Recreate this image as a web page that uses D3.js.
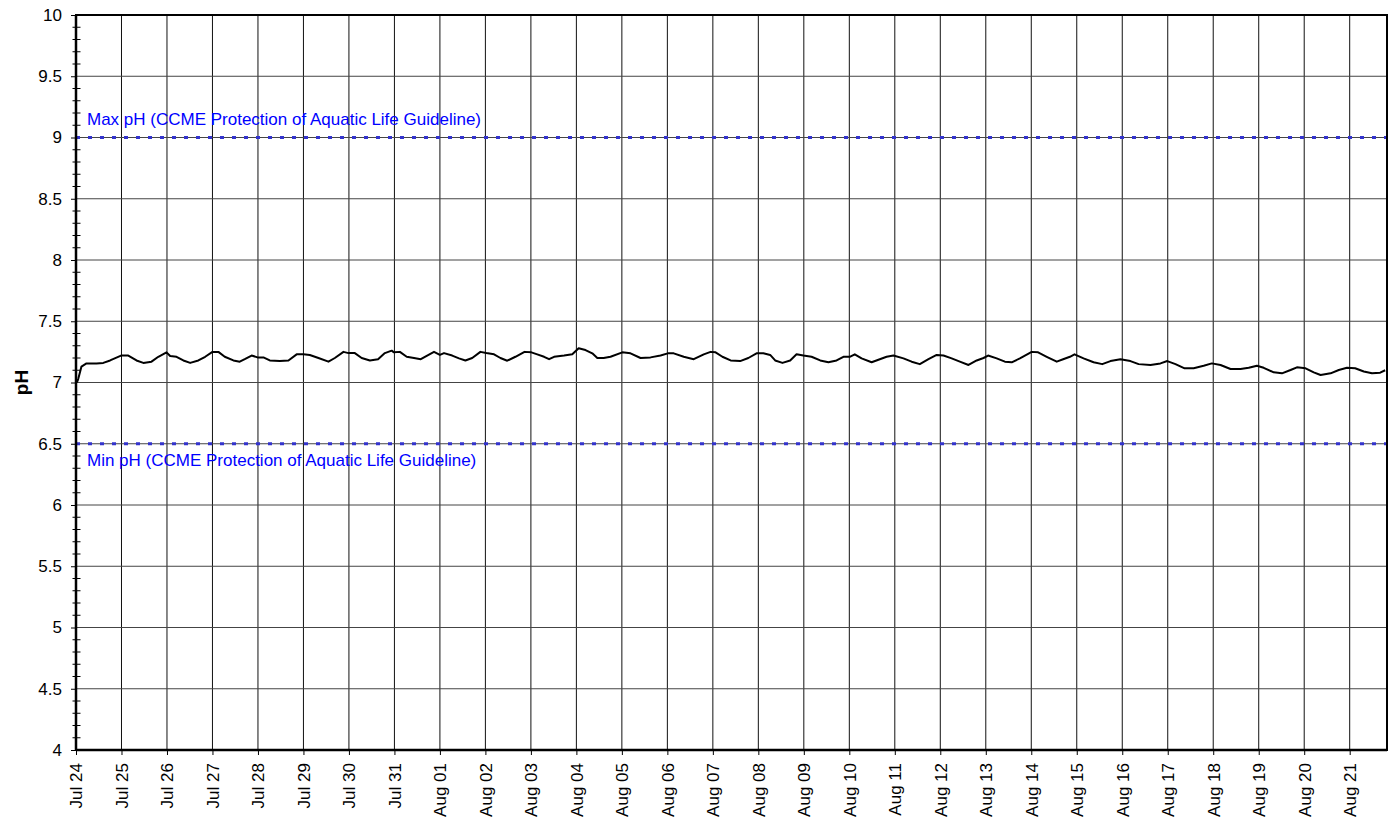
<!DOCTYPE html>
<html>
<head>
<meta charset="utf-8">
<script src="https://cdn.jsdelivr.net/npm/d3@7"></script>
<style>
  html, body { margin: 0; padding: 0; background: #fff; }
  svg { display: block; font-family: Arial, "Liberation Sans", sans-serif; }
</style>
</head>
<body>
<svg id="chart" width="1395" height="820"></svg>
<script>
// ---- data (days since Jul 24 00:00, pH) ----
const startDate = new Date(2012, 6, 24, 0, 0);
const dayOffsets = [
  0.02, 0.05, 0.12, 0.23, 0.45, 0.60, 0.75, 0.99, 1.15, 1.33, 1.48, 1.66, 1.81, 1.99,
  2.07, 2.21, 2.36, 2.51, 2.69, 2.84, 3.00, 3.13, 3.27, 3.46, 3.60, 3.71, 3.86, 3.99,
  4.12, 4.26, 4.48, 4.67, 4.85, 5.00, 5.14, 5.33, 5.55, 5.69, 5.88, 5.99, 6.13, 6.28,
  6.46, 6.64, 6.79, 6.94, 6.99, 7.12, 7.27, 7.43, 7.58, 7.72, 7.87, 8.00, 8.09, 8.27,
  8.42, 8.56, 8.71, 8.89, 9.02, 9.19, 9.33, 9.48, 9.66, 9.86, 10.01, 10.14, 10.29, 10.40,
  10.51, 10.73, 10.91, 11.05, 11.20, 11.35, 11.46, 11.60, 11.75, 12.01, 12.19, 12.41, 12.63, 12.85,
  13.01, 13.14, 13.36, 13.58, 13.80, 13.95, 14.06, 14.21, 14.39, 14.60, 14.78, 14.96, 15.11, 15.26,
  15.37, 15.53, 15.70, 15.84, 15.99, 16.17, 16.36, 16.54, 16.72, 16.87, 17.01, 17.12, 17.27, 17.49,
  17.67, 17.82, 17.97, 18.19, 18.37, 18.55, 18.74, 18.92, 19.07, 19.25, 19.43, 19.62, 19.80, 19.95,
  20.05, 20.24, 20.42, 20.57, 20.75, 21.01, 21.15, 21.34, 21.56, 21.70, 21.85, 21.95, 22.15, 22.37,
  22.56, 22.74, 22.96, 23.18, 23.36, 23.62, 23.84, 23.99, 24.17, 24.37, 24.57, 24.79, 24.97, 25.16,
  25.38, 25.60, 25.78, 25.96, 26.11, 26.33, 26.51, 26.70, 26.84, 27.03, 27.21, 27.36, 27.58, 27.76,
  27.94, 28.12, 28.31, 28.49, 28.67, 28.78
];
const phValues = [
  7.00, 7.03, 7.13, 7.156, 7.156, 7.16, 7.18, 7.22, 7.22, 7.18, 7.16, 7.17, 7.21, 7.246,
  7.216, 7.21, 7.18, 7.16, 7.18, 7.21, 7.25, 7.25, 7.21, 7.18, 7.17, 7.19, 7.22, 7.205,
  7.205, 7.18, 7.175, 7.18, 7.23, 7.23, 7.225, 7.20, 7.17, 7.20, 7.25, 7.24, 7.24, 7.20,
  7.18, 7.19, 7.24, 7.26, 7.246, 7.25, 7.21, 7.20, 7.19, 7.22, 7.25, 7.225, 7.24, 7.22,
  7.197, 7.18, 7.20, 7.25, 7.24, 7.23, 7.20, 7.178, 7.21, 7.25, 7.246, 7.23, 7.21, 7.19,
  7.21, 7.22, 7.23, 7.28, 7.265, 7.238, 7.20, 7.20, 7.21, 7.246, 7.238, 7.20, 7.205, 7.22,
  7.238, 7.238, 7.21, 7.19, 7.23, 7.25, 7.246, 7.21, 7.18, 7.175, 7.20, 7.238, 7.238, 7.225,
  7.18, 7.16, 7.18, 7.23, 7.22, 7.21, 7.18, 7.165, 7.18, 7.21, 7.21, 7.23, 7.197, 7.165,
  7.19, 7.21, 7.22, 7.197, 7.17, 7.15, 7.19, 7.225, 7.22, 7.197, 7.17, 7.143, 7.18, 7.20,
  7.22, 7.197, 7.17, 7.165, 7.197, 7.25, 7.246, 7.21, 7.17, 7.19, 7.21, 7.23, 7.197, 7.165,
  7.15, 7.175, 7.19, 7.175, 7.15, 7.143, 7.156, 7.175, 7.15, 7.116, 7.116, 7.137, 7.156, 7.143,
  7.11, 7.11, 7.12, 7.137, 7.12, 7.083, 7.075, 7.102, 7.124, 7.116, 7.083, 7.061, 7.075, 7.102,
  7.12, 7.116, 7.09, 7.075, 7.08, 7.10
];
const xTickLabels = [
  "Jul 24", "Jul 25", "Jul 26", "Jul 27", "Jul 28", "Jul 29", "Jul 30", "Jul 31",
  "Aug 01", "Aug 02", "Aug 03", "Aug 04", "Aug 05", "Aug 06", "Aug 07", "Aug 08",
  "Aug 09", "Aug 10", "Aug 11", "Aug 12", "Aug 13", "Aug 14", "Aug 15", "Aug 16",
  "Aug 17", "Aug 18", "Aug 19", "Aug 20", "Aug 21"
];
const yTickValues = [4, 4.5, 5, 5.5, 6, 6.5, 7, 7.5, 8, 8.5, 9, 9.5, 10];
const guidelineValues = [9, 6.5];
const guidelineLabels = [
  "Max pH (CCME Protection of Aquatic Life Guideline)",
  "Min pH (CCME Protection of Aquatic Life Guideline)"
];
const xEndDays = 28.82;

// ---- layout ----
const svg = d3.select("#chart");
const margin = { left: 76, top: 15, right: 1395 - 1387, bottom: 820 - 750 };
const W = 1395 - margin.left - margin.right;
const H = 820 - margin.top - margin.bottom;
const g = svg.append("g").attr("transform", `translate(${margin.left},${margin.top})`);
const FONT = "Arial, 'Liberation Sans', sans-serif";

const dayMs = 864e5;
const toDate = d => new Date(startDate.getTime() + d * dayMs);
const x = d3.scaleTime().domain([startDate, toDate(xEndDays)]).range([0, W]);
const y = d3.scaleLinear().domain([4, 10]).range([H, 0]);

const tickDates = xTickLabels.map((_, i) => toDate(i));

// gridlines
g.append("g").selectAll("line").data(tickDates).join("line")
  .attr("x1", d => x(d)).attr("x2", d => x(d)).attr("y1", 0).attr("y2", H)
  .attr("stroke", "#111").attr("stroke-width", 1);
g.append("g").selectAll("line").data(yTickValues).join("line")
  .attr("x1", 0).attr("x2", W).attr("y1", d => y(d)).attr("y2", d => y(d))
  .attr("stroke", "#444").attr("stroke-width", 1);

// guideline lines
g.append("g").selectAll("line").data(guidelineValues).join("line")
  .attr("x1", 0).attr("x2", W).attr("y1", d => y(d)).attr("y2", d => y(d))
  .attr("stroke", "#3333CC").attr("stroke-width", 3).attr("stroke-dasharray", "4,8");
g.append("g").selectAll("text").data(guidelineValues).join("text")
  .attr("x", 11).attr("y", (d, i) => i === 0 ? y(d) - 13 : y(d) + 22)
  .attr("fill", "#0000FF").attr("font-size", 17).attr("font-family", FONT)
  .text((d, i) => guidelineLabels[i]);

// data line
const series = dayOffsets.map((d, i) => ({ t: toDate(d), v: phValues[i] }));
g.append("path").datum(series)
  .attr("fill", "none").attr("stroke", "#000").attr("stroke-width", 2)
  .attr("stroke-linejoin", "round")
  .attr("d", d3.line().x(d => x(d.t)).y(d => y(d.v)));

// frame
g.append("rect").attr("x", 0).attr("y", 0).attr("width", W).attr("height", H)
  .attr("fill", "none").attr("stroke", "#000").attr("stroke-width", 2);
g.append("line").attr("x1", 0).attr("x2", 0).attr("y1", 0).attr("y2", H)
  .attr("stroke", "#000").attr("stroke-width", 2.5);
g.append("line").attr("x1", 0).attr("x2", W).attr("y1", H).attr("y2", H)
  .attr("stroke", "#000").attr("stroke-width", 2.5);

// y axis
const yAxis = d3.axisLeft(y).tickValues(yTickValues).tickSize(5).tickPadding(9)
  .tickFormat(d => String(d));
const yg = g.append("g").call(yAxis);
yg.select(".domain").remove();
yg.selectAll("text").attr("font-size", 17).attr("fill", "#000").attr("font-family", FONT);
yg.selectAll("line").attr("stroke", "#000");

// minor y ticks
const minorY = d3.range(40, 101).map(v => v / 10).filter(v => Math.abs(v * 2 - Math.round(v * 2)) > 1e-6);
g.append("g").selectAll("line").data(minorY).join("line")
  .attr("x1", -3.5).attr("x2", 4.5).attr("y1", d => y(d)).attr("y2", d => y(d))
  .attr("stroke", "#000").attr("stroke-width", 1);

// x axis
const xAxis = d3.axisBottom(x).tickValues(tickDates).tickSize(5).tickPadding(0)
  .tickFormat((d, i) => xTickLabels[i]);
const xg = g.append("g").attr("transform", `translate(0,${H})`).call(xAxis);
xg.select(".domain").remove();
xg.selectAll("line").attr("stroke", "#000");
xg.selectAll("text")
  .attr("font-size", 17).attr("fill", "#000").attr("font-family", FONT)
  .attr("transform", "rotate(-90)")
  .attr("text-anchor", "end")
  .attr("x", -13).attr("y", 0).attr("dy", "0.35em");

// y axis title
svg.append("text")
  .attr("transform", `translate(21,${margin.top + H / 2}) rotate(-90)`)
  .attr("text-anchor", "middle").attr("dy", "0.35em")
  .attr("font-size", 19).attr("font-weight", "bold").attr("font-family", FONT)
  .text("pH");
</script>
</body>
</html>
